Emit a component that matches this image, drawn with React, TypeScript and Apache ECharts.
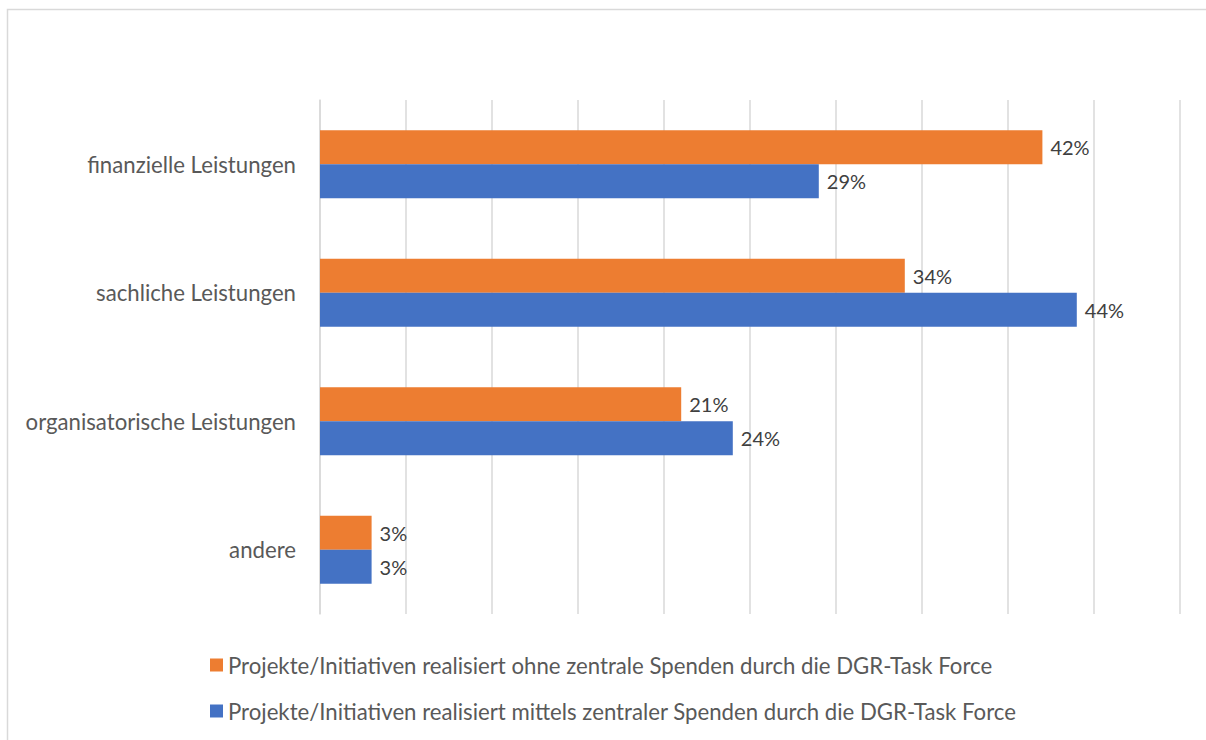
import React, { useEffect, useRef } from "react";
import * as echarts from "echarts";

const categories = [
  "finanzielle Leistungen",
  "sachliche Leistungen",
  "organisatorische Leistungen",
  "andere",
];
const seriesOhneName =
  "Projekte/Initiativen realisiert ohne zentrale Spenden durch die DGR-Task Force";
const seriesMittelsName =
  "Projekte/Initiativen realisiert mittels zentraler Spenden durch die DGR-Task Force";
const ohneValues = [42, 34, 21, 3];
const mittelsValues = [29, 44, 24, 3];

const FONT = "Lato, 'Open Sans', sans-serif";

export default function App() {
  const ref = useRef<HTMLDivElement>(null);
  useEffect(() => {
    document.body.style.margin = "0";
    if (!ref.current) return;
    const chart = echarts.init(ref.current, undefined, { renderer: "svg" });
    const label = {
      show: true,
      position: "right" as const,
      distance: 8,
      formatter: (p: any) => p.value + "%",
      color: "#404040",
      fontSize: 20,
      fontFamily: FONT,
    };
    chart.setOption({
      animation: false,
      backgroundColor: "#ffffff",
      graphic: [
        {
          type: "rect",
          shape: { x: 7.5, y: 9.5, width: 1210, height: 760 },
          style: { fill: "none", stroke: "#d9d9d9", lineWidth: 1.5 },
          silent: true,
        },
      ],
      grid: { left: 320, right: 26, top: 100, bottom: 126, containLabel: false },
      legend: {
        orient: "vertical",
        left: 205,
        top: 649,
        itemWidth: 13,
        itemHeight: 13,
        itemGap: 24,
        icon: "rect",
        textStyle: { color: "#595959", fontSize: 22.2, fontFamily: FONT },
        data: [seriesOhneName, seriesMittelsName],
      },
      xAxis: {
        type: "value",
        min: 0,
        max: 50,
        interval: 5,
        axisLabel: { show: false },
        axisLine: { show: false },
        axisTick: { show: false },
        splitLine: { show: true, lineStyle: { color: "#d9d9d9", width: 1.5 } },
      },
      yAxis: {
        type: "category",
        inverse: true,
        data: categories,
        axisLine: { show: true, lineStyle: { color: "#d9d9d9", width: 1.5 } },
        axisTick: { show: false },
        axisLabel: {
          color: "#595959",
          fontSize: 22.2,
          fontFamily: FONT,
          margin: 24,
        },
      },
      series: [
        {
          name: seriesOhneName,
          type: "bar",
          data: ohneValues,
          barWidth: 34,
          barGap: "0%",
          barCategoryGap: "47%",
          itemStyle: { color: "#ed7d31" },
          label,
        },
        {
          name: seriesMittelsName,
          type: "bar",
          data: mittelsValues,
          barWidth: 34,
          barGap: "0%",
          barCategoryGap: "47%",
          itemStyle: { color: "#4472c4" },
          label,
        },
      ],
    });
    return () => chart.dispose();
  }, []);
  return <div ref={ref} style={{ width: 1206, height: 740 }} />;
}
